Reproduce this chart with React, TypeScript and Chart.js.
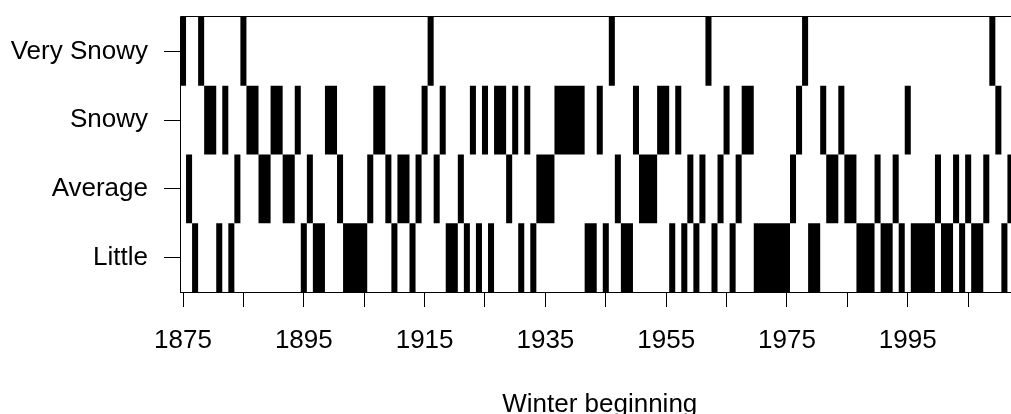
import React, { useEffect, useRef } from "react";
import { Chart, registerables } from "chart.js";

Chart.register(...registerables);

// Row order on the y axis (bottom to top)
const rowLabels = ["Little", "Average", "Snowy", "Very Snowy"];
const rowValues = [1, 2, 3, 4];

// Winters (year the winter begins) in each category
const verySnowyYears = [1875, 1878, 1885, 1916, 1946, 1962, 1978, 2009];
const snowyYears = [
  1879, 1880, 1882, 1886, 1887, 1890, 1891, 1894, 1899, 1900,
  1907, 1908, 1915, 1918, 1923, 1925, 1927, 1928, 1930, 1932,
  1937, 1938, 1939, 1940, 1941, 1944, 1950, 1954, 1955, 1957,
  1965, 1968, 1969, 1977, 1981, 1984, 1995, 2010,
];
const averageYears = [
  1876, 1884, 1888, 1889, 1892, 1893, 1896, 1901, 1906, 1909,
  1911, 1912, 1914, 1917, 1921, 1929, 1934, 1935, 1936, 1947,
  1951, 1952, 1953, 1959, 1961, 1964, 1967, 1976, 1982, 1983,
  1985, 1986, 1990, 1993, 2000, 2003, 2005, 2008, 2012,
];
const littleYears = [
  1877, 1881, 1883, 1895, 1897, 1898, 1902, 1903, 1904, 1905,
  1910, 1913, 1919, 1920, 1922, 1924, 1926, 1931, 1933, 1942,
  1943, 1945, 1948, 1949, 1956, 1958, 1960, 1963, 1966, 1970,
  1971, 1972, 1973, 1974, 1975, 1979, 1980, 1987, 1988, 1989,
  1991, 1992, 1994, 1996, 1997, 1998, 1999, 2001, 2002, 2004,
  2006, 2007, 2011,
];

// x axis ticks and labels
const xTickYears = [1875, 1885, 1895, 1905, 1915, 1925, 1935, 1945, 1955, 1965, 1975, 1985, 1995, 2005];
const xTickLabels = ["1875", "", "1895", "", "1915", "", "1935", "", "1955", "", "1975", "", "1995", ""];
const xMin = 1874.5;
const xMax = 2013.5;

const FONT = { family: "'Liberation Sans', Arial, Helvetica, sans-serif", size: 26 };

// Each winter occupies one year-wide cell in its row; consecutive winters in
// the same row are joined into one cell so that no seams appear between them.
function buildCells() {
  const groups: [number[], number][] = [
    [littleYears, rowValues[0]],
    [averageYears, rowValues[1]],
    [snowyYears, rowValues[2]],
    [verySnowyYears, rowValues[3]],
  ];
  const cells: { x: [number, number]; y: number }[] = [];
  for (const [years, row] of groups) {
    const sorted = [...years].sort((a, b) => a - b);
    let start = sorted[0];
    let prev = sorted[0];
    for (let i = 1; i <= sorted.length; i++) {
      const yr = sorted[i];
      if (yr === prev + 1) {
        prev = yr;
        continue;
      }
      cells.push({ x: [start - 0.5, prev + 0.5], y: row });
      start = yr;
      prev = yr;
    }
  }
  return cells;
}

const boxPlugin = {
  id: "boxPlugin",
  afterDraw(chart: any) {
    const { ctx, chartArea } = chart;
    const { left, top, right, bottom } = chartArea;
    ctx.save();
    ctx.strokeStyle = "#000";
    ctx.lineWidth = 1;
    const t = Math.round(top) - 0.5;
    const l = Math.round(left) + 0.5;
    const b = Math.round(bottom) + 0.5;
    ctx.beginPath();
    ctx.moveTo(l, t);
    ctx.lineTo(right + 2, t);
    ctx.moveTo(l, t);
    ctx.lineTo(l, b);
    ctx.moveTo(right + 0.5, t);
    ctx.lineTo(right + 0.5, b);
    ctx.stroke();
    ctx.restore();
  },
};

export default function App() {
  const ref = useRef<HTMLCanvasElement>(null);

  useEffect(() => {
    if (!ref.current) return;
    const chart = new Chart(ref.current, {
      type: "bar",
      data: {
        datasets: [
          {
            data: buildCells() as any,
            backgroundColor: "#000",
            borderWidth: 0,
            inflateAmount: 0,
            barPercentage: 1,
            categoryPercentage: 1,
          },
        ],
      },
      options: {
        indexAxis: "y",
        animation: false,
        responsive: false,
        maintainAspectRatio: false,
        devicePixelRatio: 1,
        layout: { padding: { top: 17, left: 0, right: 20.5, bottom: 0 } },
        plugins: {
          legend: { display: false },
          tooltip: { enabled: false },
        },
        scales: {
          x: {
            type: "linear",
            min: xMin,
            max: xMax,
            offset: false,
            beginAtZero: false,
            afterBuildTicks: (s: any) => {
              s.ticks = xTickYears.map((v) => ({ value: v }));
            },
            afterFit: (s: any) => {
              s.height = 138;
              s.paddingLeft = 0;
              s.paddingRight = 0;
            },
            ticks: {
              autoSkip: false,
              maxRotation: 0,
              minRotation: 0,
              padding: 18,
              color: "#000",
              font: FONT,
              callback: (v: any) => {
                const i = xTickYears.indexOf(Number(v));
                return i >= 0 ? xTickLabels[i] : "";
              },
            },
            grid: {
              display: true,
              drawOnChartArea: false,
              drawTicks: true,
              tickLength: 15,
              color: "#000",
              lineWidth: 1,
              offset: false,
            },
            border: { display: true, color: "#000", width: 1 },
            title: {
              display: true,
              text: "Winter beginning",
              color: "#000",
              font: FONT,
              padding: { top: 0, bottom: 10 },
            },
          },
          y: {
            type: "linear",
            min: 0.5,
            max: 4.5,
            offset: false,
            beginAtZero: false,
            afterBuildTicks: (s: any) => {
              s.ticks = rowValues.map((v) => ({ value: v }));
            },
            afterFit: (s: any) => {
              s.width = 180;
              s.paddingTop = 0;
              s.paddingBottom = 0;
            },
            ticks: {
              padding: 16,
              color: "#000",
              font: FONT,
              callback: (v: any) => {
                const i = rowValues.indexOf(Number(v));
                return i >= 0 ? rowLabels[i] : "";
              },
            },
            grid: {
              display: true,
              drawOnChartArea: false,
              drawTicks: true,
              tickLength: 16,
              color: "#000",
              lineWidth: 1,
              offset: false,
            },
            border: { display: true, color: "#000", width: 1 },
          },
        },
      } as any,
      plugins: [boxPlugin],
    });
    return () => chart.destroy();
  }, []);

  return (
    <div
      style={{
        position: "fixed",
        left: 0,
        top: 0,
        width: 1011,
        height: 414,
        overflow: "hidden",
        background: "#fff",
      }}
    >
      <canvas
        ref={ref}
        width={1040}
        height={430}
        style={{ display: "block", width: 1040, height: 430 }}
      />
    </div>
  );
}
